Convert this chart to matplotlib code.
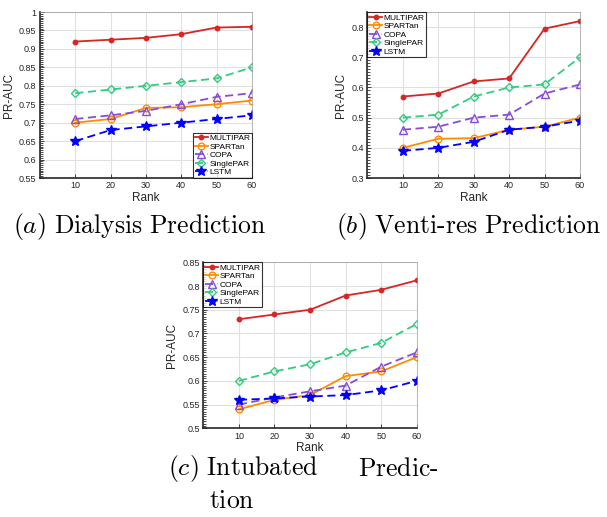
import matplotlib
matplotlib.use("Agg")
import matplotlib.pyplot as plt
from matplotlib.ticker import MultipleLocator

plt.rcParams['mathtext.fontset'] = 'cm'
plt.rcParams['font.family'] = ['Liberation Sans', 'DejaVu Sans']

ranks = [10, 20, 30, 40, 50, 60]
methods = ["MULTIPAR", "SPARTan", "COPA", "SinglePAR", "LSTM"]

dialysis = {
    "MULTIPAR": [0.92, 0.925, 0.93, 0.94, 0.958, 0.96],
    "SPARTan": [0.70, 0.71, 0.74, 0.742, 0.75, 0.76],
    "COPA": [0.71, 0.72, 0.732, 0.75, 0.77, 0.78],
    "SinglePAR": [0.78, 0.79, 0.80, 0.81, 0.82, 0.85],
    "LSTM": [0.65, 0.68, 0.69, 0.70, 0.71, 0.72],
}
ventires = {
    "MULTIPAR": [0.57, 0.58, 0.62, 0.63, 0.795, 0.82],
    "SPARTan": [0.40, 0.43, 0.432, 0.46, 0.47, 0.50],
    "COPA": [0.46, 0.47, 0.50, 0.51, 0.58, 0.61],
    "SinglePAR": [0.50, 0.51, 0.57, 0.60, 0.61, 0.70],
    "LSTM": [0.39, 0.40, 0.42, 0.46, 0.47, 0.49],
}
intubated = {
    "MULTIPAR": [0.73, 0.74, 0.75, 0.78, 0.792, 0.812],
    "SPARTan": [0.54, 0.56, 0.57, 0.61, 0.62, 0.65],
    "COPA": [0.55, 0.565, 0.578, 0.59, 0.63, 0.66],
    "SinglePAR": [0.60, 0.62, 0.635, 0.66, 0.68, 0.72],
    "LSTM": [0.56, 0.563, 0.567, 0.57, 0.58, 0.60],
}

styles = {
    "MULTIPAR": dict(color=(0.84, 0.15, 0.15), ls='-', marker='o', ms=3.2, mfc=(0.84, 0.15, 0.15)),
    "SPARTan": dict(color=(1.0, 0.55, 0.0), ls='-', marker='o', ms=4.8, mfc='none'),
    "COPA": dict(color=(0.52, 0.3, 0.85), ls=(0, (4.5, 2.5)), marker='^', ms=5.2, mfc='none'),
    "SinglePAR": dict(color=(0.2, 0.8, 0.5), ls=(0, (4.5, 2.5)), marker='D', ms=4.0, mfc='none'),
    "LSTM": dict(color=(0.0, 0.0, 1.0), ls=(0, (4.5, 2.5)), marker='*', ms=7.5, mfc=(0.0, 0.0, 1.0)),
}

fig = plt.figure(figsize=(6.07, 5.17), dpi=100)

def panel(rect, data, ylim, major, minor, legloc):
    ax = fig.add_axes(rect)
    for m in methods:
        s = styles[m]
        ax.plot(ranks, data[m], color=s['color'], ls=s['ls'], marker=s['marker'],
                ms=s['ms'], mfc=s['mfc'], mec=s['color'], mew=1.0, lw=1.3, label=m)
    ax.set_xlim(0, 60)
    ax.set_ylim(*ylim)
    ax.set_xticks(ranks)
    ax.yaxis.set_major_locator(MultipleLocator(major))
    ax.yaxis.set_minor_locator(MultipleLocator(minor))
    ax.yaxis.set_major_formatter(matplotlib.ticker.FuncFormatter(lambda v, p: ('%g' % round(v, 3))))
    ax.grid(True, which='major', color=(0.88, 0.88, 0.88), lw=0.8)
    ax.set_axisbelow(True)
    ax.tick_params(axis='both', which='major', labelsize=6.5, direction='in', length=3,
                   colors=(0.15, 0.15, 0.15), width=0.6, pad=2.5)
    ax.tick_params(axis='y', which='minor', direction='in', length=2, width=0.5)
    ax.tick_params(axis='x', which='both', top=False)
    ax.set_xlabel('Rank', fontsize=8.5, color=(0.15, 0.15, 0.15), labelpad=1)
    ax.set_ylabel('PR-AUC', fontsize=8.5, color=(0.15, 0.15, 0.15), labelpad=3)
    for sp in ['left', 'bottom']:
        ax.spines[sp].set_linewidth(1.2)
        ax.spines[sp].set_color((0.15, 0.15, 0.15))
    for sp in ['right', 'top']:
        ax.spines[sp].set_linewidth(0.5)
        ax.spines[sp].set_color((0.6, 0.6, 0.6))
    leg = ax.legend(loc=legloc, fontsize=6.0, frameon=True, fancybox=False,
                    handlelength=1.6, handletextpad=0.15, labelspacing=0.08,
                    borderpad=0.2, borderaxespad=0.0, edgecolor='black')
    leg.get_frame().set_linewidth(0.8)
    return ax

panel([0.0659, 0.6557, 0.349, 0.321], dialysis, (0.55, 1.0), 0.05, 0.005, 'lower right')
panel([0.6054, 0.6557, 0.350, 0.321], ventires, (0.3, 0.85), 0.1, 0.01, 'upper left')
panel([0.335, 0.1716, 0.3516, 0.321], intubated, (0.5, 0.85), 0.05, 0.005, 'upper left')

fs = 18.5
cap = dict(fontsize=fs, ha='center', va='center')
fig.text(140 / 607, 1 - 226 / 517, r'$(a)\ \mathrm{Dialysis\ Prediction}$', **cap)
fig.text(469 / 607, 1 - 226 / 517, r'$(b)\ \mathrm{Venti\text{-}res\ Prediction}$', **cap)
fig.text(168 / 607, 1 - 469 / 517, r'$(c)\ \mathrm{Intubated}$', fontsize=fs, ha='left', va='center')
fig.text(439 / 607, 1 - 469 / 517, r'$\mathrm{Predic\text{-}}$', fontsize=fs, ha='right', va='center')
fig.text(209 / 607, 1 - 501 / 517, r'$\mathrm{tion}$', fontsize=fs, ha='left', va='center')

fig.savefig('out.png', dpi=100)
